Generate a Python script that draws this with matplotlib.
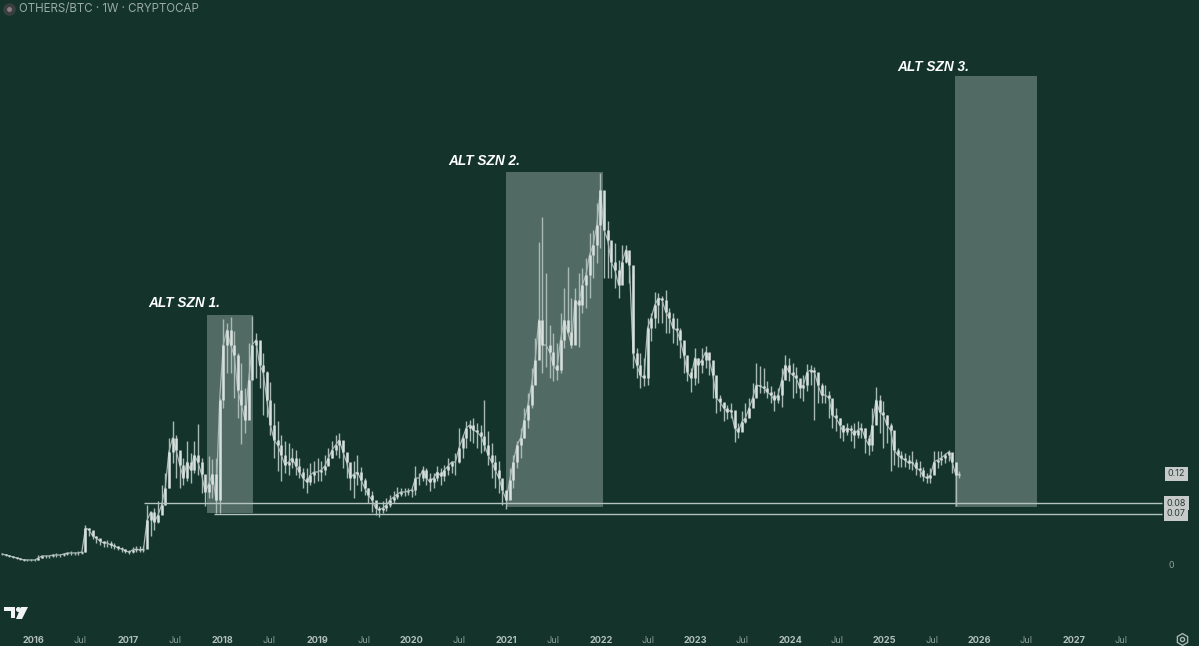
# OTHERS/BTC weekly chart with the three alt season boxes

import matplotlib
matplotlib.use("Agg")
import matplotlib.pyplot as plt
import matplotlib.dates as mdates
from matplotlib.patches import Polygon
import pandas as pd

# vertical values are height on the log chart, measured from the 0.08 support line
close = [
    -51, -52, -53, -54, -55, -56, -57, -57, -57, -57,
    -55, -53, -53, -53, -52, -52, -52, -51, -50, -50,
    -50, -50, -49, -25, -27, -33, -35, -38, -40, -40,
    -42, -43, -45, -46, -48, -49, -47, -46, -47, -46,
    -17, -9, -19, -12, -2, 15, 51, 65, 53, 38,
    25, 41, 33, 48, 41, 29, 11, 19, 29, 3,
    103, 158, 173, 158, 148, 113, 98, 83, 123, 158,
    163, 138, 131, 103, 78, 63, 58, 48, 38, 41,
    45, 37, 31, 25, 21, 28, 31, 31, 33, 37,
    45, 53, 58, 63, 51, 41, 25, 29, 31, 23,
    15, 8, 3, -5, -7, -5, -2, 3, 6, 9,
    11, 11, 12, 13, 25, 25, 33, 25, 21, 25,
    31, 27, 33, 37, 41, 41, 55, 65, 75, 78,
    73, 71, 67, 58, 48, 41, 33, 25, 13, 3,
    23, 41, 58, 65, 83, 98, 118, 143, 183, 158,
    158, 151, 138, 133, 163, 183, 171, 158, 203, 198,
    218, 228, 248, 258, 278, 313, 273, 263, 241, 233,
    218, 241, 253, 238, 150, 138, 128, 125, 175, 185,
    198, 205, 203, 191, 185, 175, 173, 163, 148, 131,
    125, 145, 138, 143, 151, 143, 128, 105, 101, 95,
    91, 93, 75, 71, 81, 85, 95, 105, 118, 117,
    115, 111, 108, 103, 108, 123, 138, 131, 128, 125,
    115, 118, 131, 133, 131, 118, 108, 108, 105, 88,
    85, 78, 71, 75, 73, 68, 73, 75, 65, 58,
    78, 103, 91, 88, 78, 73, 53, 48, 45, 43,
    40, 41, 35, 33, 27, 25, 28, 41, 43, 45,
    48, 51, 41, 28, 29,
]
high = [
    -50, -51, -52, -53, -54, -55, -56, -56, -56, -56,
    -52, -52, -52, -52, -51, -50, -51, -50, -49, -48,
    -49, -48, -48, -22, -25, -28, -33, -36, -38, -37,
    -38, -40, -43, -44, -46, -47, -44, -43, -43, -43,
    -2, -8, -5, 2, 18, 30, 65, 82, 68, 50,
    45, 62, 50, 62, 79, 45, 28, 47, 44, 45,
    105, 184, 180, 186, 172, 150, 140, 115, 160, 187,
    170, 158, 150, 132, 121, 100, 82, 68, 62, 60,
    55, 53, 45, 35, 35, 40, 42, 45, 42, 48,
    55, 62, 68, 70, 62, 50, 35, 42, 48, 36,
    25, 15, 12, 0, -3, 2, 5, 8, 12, 16,
    15, 15, 15, 15, 37, 30, 37, 35, 30, 30,
    37, 35, 38, 45, 42, 50, 75, 68, 82, 83,
    85, 80, 78, 103, 72, 60, 48, 42, 22, 8,
    35, 48, 62, 75, 95, 110, 135, 165, 261, 286,
    230, 178, 170, 160, 190, 215, 236, 205, 215, 230,
    235, 245, 270, 273, 300, 330, 295, 282, 255, 260,
    243, 258, 258, 248, 230, 155, 150, 145, 185, 190,
    211, 210, 207, 213, 195, 190, 185, 175, 160, 140,
    135, 155, 145, 155, 157, 150, 135, 110, 108, 100,
    98, 100, 85, 80, 92, 100, 105, 120, 140, 137,
    135, 122, 117, 112, 115, 135, 148, 145, 140, 136,
    122, 128, 139, 138, 136, 125, 120, 118, 112, 100,
    95, 85, 78, 80, 78, 80, 82, 80, 75, 68,
    95, 116, 108, 102, 88, 80, 62, 55, 52, 50,
    48, 52, 44, 42, 36, 30, 35, 52, 52, 52,
    50, 53, 50, 35, 32,
]
low = [
    -52, -53, -54, -55, -56, -57, -58, -58, -58, -58,
    -57, -55, -55, -55, -54, -54, -54, -53, -52, -52,
    -52, -52, -51, -49, -33, -36, -40, -42, -44, -44,
    -45, -46, -47, -49, -50, -51, -50, -49, -49, -49,
    -30, -33, -27, -20, -8, -2, 15, 40, 25, 15,
    18, 22, 20, 30, 28, 10, -3, 5, 5, -10,
    -10, 95, 130, 130, 105, 85, 59, 70, 95, 130,
    125, 115, 88, 86, 68, 45, 32, 22, 30, 28,
    35, 28, 25, 15, 10, 18, 20, 22, 22, 28,
    38, 45, 48, 45, 35, 25, 13, 5, 18, 12,
    8, 0, -9, -12, -14, -10, -8, -4, 0, 4,
    7, 7, 8, 6, 8, 18, 22, 18, 12, 15,
    22, 18, 22, 28, 30, 28, 40, 45, 55, 62,
    60, 55, 50, 52, 38, 25, 15, 10, -2, -6,
    5, 15, 35, 45, 65, 75, 95, 120, 170, 130,
    136, 125, 122, 123, 130, 155, 170, 155, 160, 156,
    190, 195, 205, 225, 240, 255, 225, 225, 225, 215,
    205, 228, 240, 220, 135, 125, 115, 117, 118, 162,
    175, 180, 180, 170, 170, 160, 158, 145, 130, 122,
    111, 118, 120, 130, 135, 128, 105, 90, 92, 82,
    84, 85, 61, 65, 72, 80, 88, 100, 108, 110,
    110, 105, 100, 92, 100, 96, 125, 122, 105, 110,
    105, 102, 112, 118, 83, 100, 100, 100, 85, 75,
    72, 65, 62, 68, 62, 55, 65, 65, 50, 48,
    52, 85, 70, 55, 60, 32, 38, 36, 36, 36,
    34, 33, 28, 26, 22, 20, 20, 30, 35, 38,
    40, 42, 30, -3, 25,
]

zone_start = ["2017-11-02", "2020-12-31", "2025-09-28"]
zone_end = ["2018-04-28", "2022-01-09", "2026-08-10"]
zone_bottom = [-10, -4, -4]
zone_top = [188, 331, 427]
zone_names = ["ALT SZN 1.", "ALT SZN 2.", "ALT SZN 3."]
name_dates = ["2017-03-22", "2020-05-20", "2025-02-17"]
name_levels = [200, 342, 436]

support_levels = [0, -11]
support_start = ["2017-03-05", "2017-11-29"]
support_end = "2027-12-09"
price_tags = ["0.12", "0.08", "0.07"]
tag_levels = [29, 0, -11]

tick_dates = ["2016-01-01", "2016-07-01", "2017-01-01", "2017-07-01", "2018-01-01", "2018-07-01",
              "2019-01-01", "2019-07-01", "2020-01-01", "2020-07-01", "2021-01-01", "2021-07-01",
              "2022-01-01", "2022-07-01", "2023-01-01", "2023-07-01", "2024-01-01", "2024-07-01",
              "2025-01-01", "2025-07-01", "2026-01-01", "2026-07-01", "2027-01-01", "2027-07-01"]
tick_labels = ["2016", "Jul", "2017", "Jul", "2018", "Jul", "2019", "Jul", "2020", "Jul", "2021", "Jul",
               "2022", "Jul", "2023", "Jul", "2024", "Jul", "2025", "Jul", "2026", "Jul", "2027", "Jul"]

BG = "#13332b"
plt.rcParams["font.family"] = ["Inter", "Liberation Sans", "DejaVu Sans"]

fig = plt.figure(figsize=(11.99, 6.46), dpi=100, facecolor=BG)
ax = fig.add_axes([0, 0, 1, 1], facecolor=BG)

dates = pd.date_range("2015-09-03", periods=len(close), freq="14D")
opens = [close[0]] + close[:-1]

ax.plot(dates, close, color="#a9b9b4", linewidth=0.9, zorder=3)
ax.vlines(dates, low, high, color="#a9b9b4", linewidth=1.0, zorder=3)
ax.vlines(dates, opens, close, color="#d9e1de", linewidth=1.8, zorder=4)

for s, e, b, t in zip(zone_start, zone_end, zone_bottom, zone_top):
    ax.axvspan(pd.Timestamp(s), pd.Timestamp(e), ymin=(b + 143) / 646, ymax=(t + 143) / 646,
               facecolor="white", alpha=0.27, linewidth=0, zorder=2)

for name, d, lev in zip(zone_names, name_dates, name_levels):
    ax.text(pd.Timestamp(d), lev, name, color="white", fontsize=9.8, fontweight="bold",
            fontstyle="italic", family="Liberation Sans", va="center", ha="left")

for lev, s in zip(support_levels, support_start):
    ax.hlines(lev, pd.Timestamp(s), pd.Timestamp(support_end), color="#b5c3bf", linewidth=1.0, zorder=5)

for tag, lev in zip(price_tags, tag_levels):
    ax.text(0.981, lev, tag, transform=ax.get_yaxis_transform(), color="#2b3b37", fontsize=6.5,
            ha="center", va="center", zorder=6,
            bbox=dict(boxstyle="square,pad=0.3", facecolor="#c6cbca", edgecolor="none"))
ax.text(0.977, -63, "0", transform=ax.get_yaxis_transform(), color="#8fa19c", fontsize=6.3,
        ha="center", va="center")

ax.set_xlim(pd.Timestamp("2015-08-26"), pd.Timestamp("2028-04-28"))
ax.set_ylim(-143, 503)
ax.set_yticks([])
ax.set_xticks([mdates.date2num(pd.Timestamp(d)) for d in tick_dates])
ax.set_xticklabels(tick_labels)
ax.tick_params(axis="x", length=0, pad=-7.5, labelsize=6.6)
for lab, txt in zip(ax.get_xticklabels(), tick_labels):
    if txt == "Jul":
        lab.set_color("#8fa19c")
    else:
        lab.set_color("#b3c0bc")
        lab.set_fontweight("bold")
for sp in ax.spines.values():
    sp.set_visible(False)

# header
ax.plot([9 / 1199], [1 - 9 / 646], "o", ms=8, color="#3a3f3f", transform=ax.transAxes, clip_on=False)
ax.plot([9 / 1199], [1 - 9 / 646], "o", ms=2.5, color="#8d7f7f", transform=ax.transAxes)
ax.text(19 / 1199, 1 - 9 / 646, "OTHERS/BTC · 1W · CRYPTOCAP", transform=ax.transAxes,
        color="#9aaba6", fontsize=8.3, va="center", ha="left")

# TradingView logo
W, H = 1199, 646
def logo_patch(pts):
    fig.patches.append(Polygon([(x / W, 1 - y / H) for x, y in pts], closed=True, facecolor="#f2f4f3",
                               edgecolor="none", transform=fig.transFigure))
logo_patch([(4, 607), (15, 607), (15, 618), (11, 618), (11, 611), (4, 611)])
logo_patch([(21, 607), (28, 607), (22, 619), (16, 619)])
ax.plot([17.5 / W], [1 - 609 / H], "o", ms=2.6, color="#f2f4f3", transform=ax.transAxes)

# settings icon
ax.plot([1182 / W], [1 - 639 / H], "h", ms=8.5, mfc="none", mec="#a8b6b2", mew=1.0, transform=ax.transAxes)
ax.plot([1182 / W], [1 - 639 / H], "o", ms=3, mfc="none", mec="#a8b6b2", mew=1.0, transform=ax.transAxes)

fig.savefig("out.png", dpi=100, facecolor=BG)
